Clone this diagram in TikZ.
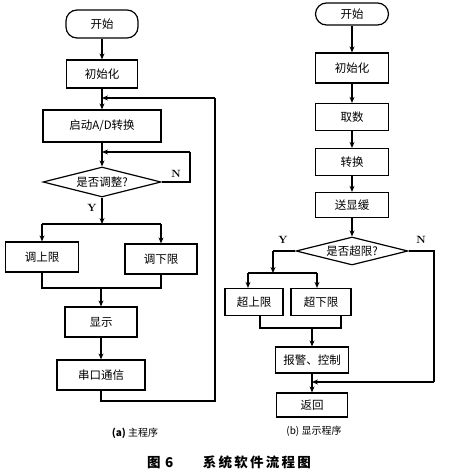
\documentclass[tikz,border=0pt]{standalone}
\usepackage{fontspec}
\newfontfamily\cjk{Noto Sans CJK SC}
\usetikzlibrary{shapes.geometric,arrows.meta}
\tikzset{
  box/.style={draw,line width=1.2pt,minimum width=#1,inner sep=0pt,font=\cjk\fontsize{11.5}{13}\selectfont},
  box/.default=73pt,
  term/.style={box=#1,rounded corners=11pt},
  dec/.style={draw,line width=1.2pt,diamond,aspect=4,inner sep=0pt,font=\cjk\fontsize{11.5}{13}\selectfont},
  link/.style={line width=1.2pt},
  arr/.style={line width=1.2pt,-{Stealth[length=6pt,width=5pt]}},
  yn/.style={font=\bfseries\fontsize{10.5}{12}\selectfont},
  sub/.style={font=\cjk\fontsize{10}{12}\selectfont},
}
\begin{document}
\begin{tikzpicture}[x=1pt,y=-1pt]
\useasboundingbox (0,0) rectangle (450,473);
% ---------- left: main program ----------
\node[term=72pt,minimum height=28pt] (s1) at (102,24) {开始};
\node[box=71pt,minimum height=28pt] (i1) at (102,74) {初始化};
\node[box=118pt,minimum height=32pt] (ad) at (102,126) {启动A/D转换};
\node[dec,minimum width=118pt,minimum height=30pt] (d1) at (102,182) {是否调整?};
\node[yn] (y1) at (92,208) {Y};
\node[yn] (n1) at (176,174) {N};
\node[box=73pt,minimum height=30pt] (ul) at (42,257) {调上限};
\node[box=72pt,minimum height=30pt] (dl) at (161,259) {调下限};
\node[box=72pt,minimum height=30pt] (disp) at (101,322) {显示};
\node[box=88pt,minimum height=30pt] (com) at (101,375) {串口通信};
\coordinate (j1) at (102,98);
\coordinate (j2) at (102,152);
\coordinate (b1) at (102,224);
\coordinate (bl) at (42,224);
\coordinate (br) at (161,224);
\coordinate (ml) at (42,288);
\coordinate (mr) at (161,288);
\coordinate (mc) at (101,288);
\coordinate (lp1) at (101,401);
\coordinate (lp2) at (215,401);
\coordinate (lp3) at (215,98);
\coordinate (np1) at (190,182);
\coordinate (np2) at (190,152);
\draw[arr] (s1) -- (i1);
\draw[arr] (i1) -- (ad);
\draw[arr] (ad) -- (d1);
\draw[arr] (d1.south) -- (b1);
\draw[link] (bl) -- (br);
\draw[arr] (bl) -- (ul.north);
\draw[arr] (br) -- (dl.north);
\draw[link] (ul.south) -- (ml) -- (mr) -- (dl.south);
\draw[arr] (mc) -- (disp.north);
\draw[arr] (disp) -- (com);
\draw[link] (com.south) -- (lp1) -- (lp2) -- (lp3);
\draw[arr] (lp3) -- (j1);
\draw[link] (d1.east) -- (np1) -- (np2);
\draw[arr] (np2) -- (j2);
\node[sub] (ca) at (135,433) {\textbf{(a)} 主程序};
% ---------- right: display program ----------
\node[term=73pt,minimum height=22pt] (s2) at (352,14) {开始};
\node[box=73pt,minimum height=30pt] (i2) at (352,68) {初始化};
\node[box=73pt,minimum height=27pt] (q2) at (352,117) {取数};
\node[box=73pt,minimum height=27pt] (z2) at (352,162) {转换};
\node[box=73pt,minimum height=25pt] (x2) at (352,205) {送显缓};
\node[dec,minimum width=112pt,minimum height=28pt] (d2) at (352,251) {是否超限?};
\node[yn] (y2) at (283,240) {Y};
\node[yn] (n2) at (421,240) {N};
\node[box=58pt,minimum height=27pt] (ou) at (254,302) {超上限};
\node[box=60pt,minimum height=27pt] (ol) at (321,302) {超下限};
\node[box=73pt,minimum height=26pt] (al) at (312,360) {报警、控制};
\node[box=71pt,minimum height=24pt] (rt) at (312,405) {返回};
\coordinate (yp) at (273,251);
\coordinate (yq) at (273,273);
\coordinate (hl) at (248,273);
\coordinate (hr) at (317,273);
\coordinate (m1) at (260,328);
\coordinate (m2) at (341,328);
\coordinate (m3) at (312,328);
\coordinate (nq1) at (434,251);
\coordinate (nq2) at (434,382);
\coordinate (nq3) at (312,382);
\draw[arr] (s2) -- (i2);
\draw[arr] (i2) -- (q2);
\draw[arr] (q2) -- (z2);
\draw[arr] (z2) -- (x2);
\draw[arr] (x2) -- (d2);
\draw[link] (d2.west) -- (yp);
\draw[arr] (yp) -- (yq);
\draw[link] (hl) -- (hr);
\draw[arr] (hl) -- (hl |- ou.north);
\draw[arr] (hr) -- (hr |- ol.north);
\draw[link] (m1 |- ou.south) -- (m1) -- (m2) -- (m2 |- ol.south);
\draw[arr] (m3) -- (al.north);
\draw[arr] (al) -- (rt);
\draw[link] (d2.east) -- (nq1) -- (nq2);
\draw[arr] (nq2) -- (nq3);
\node[sub] (cb) at (314,431) {(b)\ 显示程序};
% ---------- figure caption ----------
\node[font=\cjk\bfseries\fontsize{13.5}{15}\selectfont] (fig) at (229,462) {图\,\,6\hspace{2.2em}系\,统\,软\,件\,流\,程\,图};
\end{tikzpicture}
\end{document}
